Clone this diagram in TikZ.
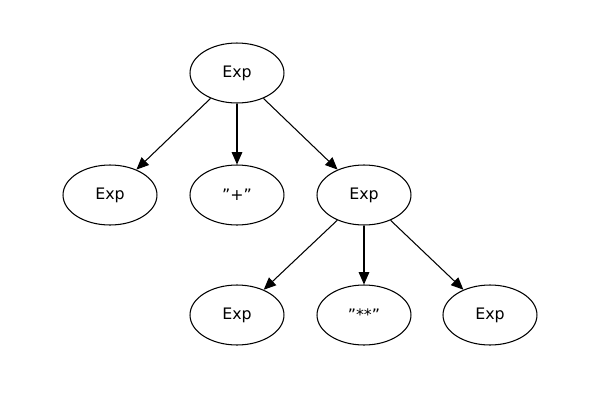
\documentclass[tikz,border=0pt]{standalone}
\usepackage{fontspec}
\setmainfont{DejaVu Sans}
\usetikzlibrary{shapes.geometric,arrows.meta}
\begin{document}
\begin{tikzpicture}[x=0.02cm,y=-0.02cm,
  tn/.style={ellipse,draw,line width=0.6pt,minimum width=1.88cm,minimum height=1.2cm,inner sep=0pt,font=\fontsize{9}{10}\selectfont},
  ed/.style={-{Triangle[length=7pt,width=6pt]},line width=0.6pt}]
\useasboundingbox (0,0) rectangle (600,400);
\node[tn] (r) at (237,73) {Exp};
\node[tn] (a) at (110,195) {Exp};
\node[tn] (p) at (237,195) {"+"};
\node[tn] (b) at (364,195) {Exp};
\node[tn] (c) at (237,315) {Exp};
\node[tn] (s) at (364,315) {"**"};
\node[tn] (d) at (490,315) {Exp};
\draw[ed] (r) -- (a);
\draw[ed] (r) -- (p);
\draw[ed] (r) -- (b);
\draw[ed] (b) -- (c);
\draw[ed] (b) -- (s);
\draw[ed] (b) -- (d);
\end{tikzpicture}
\end{document}
